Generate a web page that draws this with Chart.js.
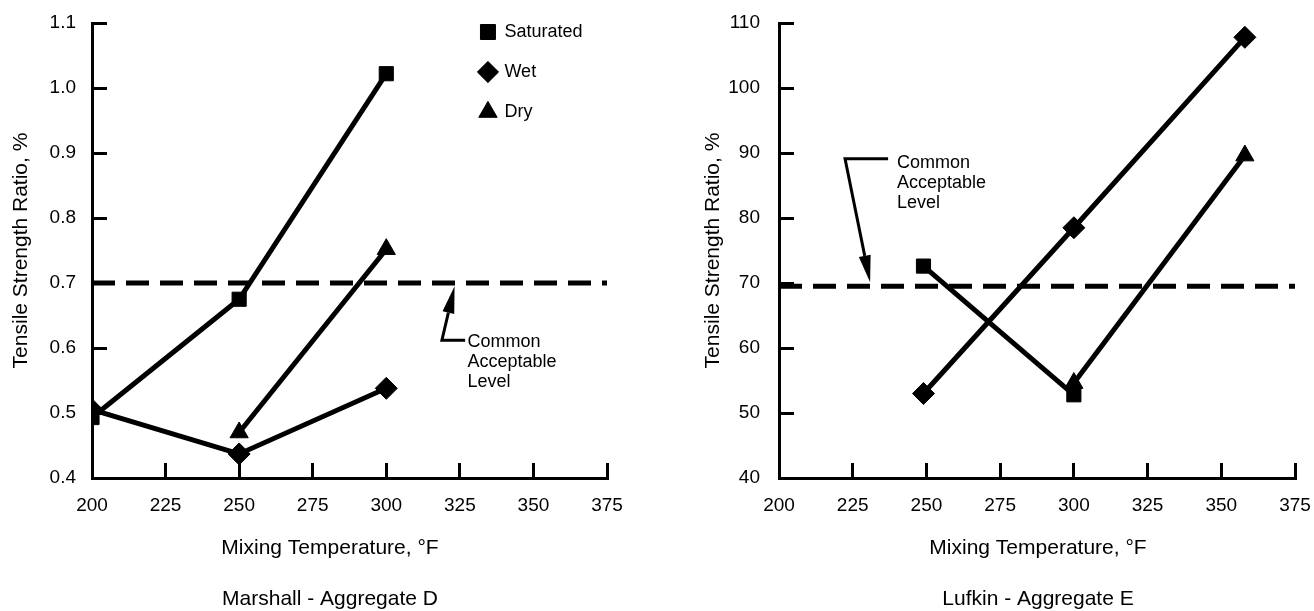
<!DOCTYPE html>
<html>
<head>
<meta charset="utf-8">
<script src="https://cdn.jsdelivr.net/npm/chart.js@4.4.1/dist/chart.umd.min.js"></script>
<style>
  html, body { margin: 0; padding: 0; background: #fff; }
  canvas { position: absolute; top: 0; }
  #chartD { left: 0; }
  #chartE { left: 660px; }
</style>
</head>
<body>
<canvas id="chartD" width="660" height="611"></canvas>
<canvas id="chartE" width="654" height="611"></canvas>
<script>
const FONT = '"Liberation Sans", Arial, sans-serif';

const tempTicks = [200, 225, 250, 275, 300, 325, 350, 375];

// Marshall - Aggregate D
const marshallSatTemps = [200, 250, 300];
const marshallSaturated = [0.493, 0.675, 1.022];
const marshallWetTemps = [200, 250, 300];
const marshallWet = [0.505, 0.437, 0.538];
const marshallDryTemps = [250, 300];
const marshallDry = [0.47, 0.752];
const marshallLevel = 0.7;

// Lufkin - Aggregate E
const lufkinSatTemps = [249, 300];
const lufkinSaturated = [72.6, 52.8];
const lufkinWetTemps = [249, 300, 358];
const lufkinWet = [53.0, 78.5, 107.8];
const lufkinDryTemps = [300, 358];
const lufkinDry = [54.6, 89.6];
const lufkinLevel = 69.5;

const noteText = ['Common', 'Acceptable', 'Level'];

function series(label, xs, ys, style, radius) {
    return {
        label: label,
        data: xs.map((x, i) => ({ x: x, y: ys[i] })),
        borderColor: '#000',
        backgroundColor: '#000',
        borderWidth: 5,
        pointStyle: style,
        pointRadius: radius,
        pointHoverRadius: radius,
        pointBackgroundColor: '#000',
        pointBorderColor: '#000',
        pointBorderWidth: 1
    };
}

function levelLine(level) {
    return {
        label: 'Common Acceptable Level',
        data: [{ x: tempTicks[0], y: level }, { x: tempTicks[tempTicks.length - 1], y: level }],
        borderColor: '#000',
        borderWidth: 5,
        borderDash: [23, 11],
        borderCapStyle: 'butt',
        pointRadius: 0
    };
}

// moves the legend box to a spot given in data units
const legendSpot = {
    id: 'legendSpot',
    afterLayout(chart, args, opts) {
        if (opts.x === undefined || !chart.legend) return;
        const pad = chart.legend.options.labels.padding;
        chart.legend.left = chart.scales.x.getPixelForValue(opts.x) - pad;
        chart.legend.top = chart.scales.y.getPixelForValue(opts.y) - pad;
    }
};

// arrow + "Common Acceptable Level" note
const note = {
    id: 'note',
    afterDatasetsDraw(chart, args, o) {
        const ctx = chart.ctx;
        const px = v => chart.scales.x.getPixelForValue(v);
        const py = v => chart.scales.y.getPixelForValue(v);
        const tx = px(o.tail[0]), ty = py(o.tail[1]);
        const hx = px(o.tip[0]), hy = py(o.tip[1]);
        const ang = Math.atan2(hy - ty, hx - tx);
        const L = 27, W = 6;
        const bx = hx - L * Math.cos(ang), by = hy - L * Math.sin(ang);

        ctx.save();
        ctx.strokeStyle = '#000';
        ctx.fillStyle = '#000';
        ctx.lineWidth = 3;
        ctx.beginPath();
        ctx.moveTo(px(o.barEnd), ty);
        ctx.lineTo(tx, ty);
        ctx.lineTo(bx, by);
        ctx.stroke();
        ctx.beginPath();
        ctx.moveTo(hx, hy);
        ctx.lineTo(bx + W * Math.sin(ang), by - W * Math.cos(ang));
        ctx.lineTo(bx - W * Math.sin(ang), by + W * Math.cos(ang));
        ctx.closePath();
        ctx.fill();

        ctx.font = '18px ' + FONT;
        ctx.textAlign = 'left';
        ctx.textBaseline = 'middle';
        noteText.forEach((t, i) => ctx.fillText(t, px(o.textAt[0]), py(o.textAt[1]) + i * 20));
        ctx.restore();
    }
};

// x axis caption and panel name under the chart
const captions = {
    id: 'captions',
    afterDraw(chart, args, o) {
        const ctx = chart.ctx;
        ctx.save();
        ctx.fillStyle = '#000';
        ctx.font = '21px ' + FONT;
        ctx.textAlign = 'center';
        ctx.textBaseline = 'middle';
        o.lines.forEach((t, i) => ctx.fillText(t, o.x, o.y[i]));
        ctx.restore();
    }
};

function makeChart(id, p) {
    const axisGrid = { drawOnChartArea: false, tickLength: -15, lineWidth: 3, color: '#000' };
    const axisBorder = { display: true, width: 3, color: '#000' };
    return new Chart(document.getElementById(id), {
        type: 'line',
        data: { datasets: p.datasets },
        plugins: [legendSpot, note, captions],
        options: {
            responsive: false,
            animation: false,
            devicePixelRatio: 1,
            layout: { padding: { top: 23, right: p.padRight, left: 0, bottom: 0 } },
            scales: {
                x: {
                    type: 'linear',
                    min: tempTicks[0],
                    max: tempTicks[tempTicks.length - 1],
                    afterFit: s => {
                        s.height = 133;
                        s.paddingLeft = 0;
                        s.paddingRight = 0;
                    },
                    afterBuildTicks: s => { s.ticks = tempTicks.map(v => ({ value: v })); },
                    ticks: { padding: 31, color: '#000', font: { family: FONT, size: 19 } },
                    grid: axisGrid,
                    border: axisBorder
                },
                y: {
                    min: p.yMin,
                    max: p.yMax,
                    afterFit: s => {
                        s.width = p.yWidth;
                        s.paddingTop = 0;
                        s.paddingBottom = 0;
                    },
                    ticks: {
                        stepSize: p.yStep,
                        padding: p.yLabelPad,
                        color: '#000',
                        font: { family: FONT, size: 19 },
                        callback: p.yFormat
                    },
                    grid: axisGrid,
                    border: axisBorder,
                    title: {
                        display: true,
                        text: 'Tensile Strength Ratio, %',
                        color: '#000',
                        font: { family: FONT, size: 21 },
                        padding: { top: p.titlePad, bottom: 0 }
                    }
                }
            },
            plugins: {
                legend: {
                    display: p.legend,
                    position: 'chartArea',
                    align: 'start',
                    labels: {
                        usePointStyle: true,
                        boxWidth: 15,
                        boxHeight: 15,
                        padding: 22,
                        color: '#000',
                        font: { family: FONT, size: 18 },
                        filter: item => item.datasetIndex < 3
                    }
                },
                tooltip: { enabled: false },
                legendSpot: p.legendAt,
                note: p.note,
                captions: p.captions
            }
        }
    });
}

makeChart('chartD', {
    datasets: [
        series('Saturated', marshallSatTemps, marshallSaturated, 'rect', 10),
        series('Wet', marshallWetTemps, marshallWet, 'rectRot', 11),
        series('Dry', marshallDryTemps, marshallDry, 'triangle', 10.5),
        levelLine(marshallLevel)
    ],
    padRight: 53,
    yWidth: 92,
    yMin: 0.4, yMax: 1.1, yStep: 0.1,
    yLabelPad: 31,
    yFormat: v => v.toFixed(1),
    titlePad: 9,
    legend: true,
    legendAt: { x: 332, y: 1.1 },
    note: { tail: [318.9, 0.612], barEnd: 326.8, tip: [323.2, 0.695], textAt: [327.6, 0.609] },
    captions: { lines: ['Mixing Temperature, °F', 'Marshall - Aggregate D'], x: 330, y: [548, 599] }
});

makeChart('chartE', {
    datasets: [
        series('Saturated', lufkinSatTemps, lufkinSaturated, 'rect', 10),
        series('Wet', lufkinWetTemps, lufkinWet, 'rectRot', 11),
        series('Dry', lufkinDryTemps, lufkinDry, 'triangle', 10.5),
        levelLine(lufkinLevel)
    ],
    padRight: 19,
    yWidth: 119,
    yMin: 40, yMax: 110, yStep: 10,
    yLabelPad: 34,
    yFormat: v => String(v),
    titlePad: 41,
    legend: false,
    legendAt: {},
    note: { tail: [222.4, 89.1], barEnd: 237.0, tip: [230.9, 70.1], textAt: [240.0, 88.5] },
    captions: { lines: ['Mixing Temperature, °F', 'Lufkin - Aggregate E'], x: 378, y: [548, 599] }
});
</script>
</body>
</html>
